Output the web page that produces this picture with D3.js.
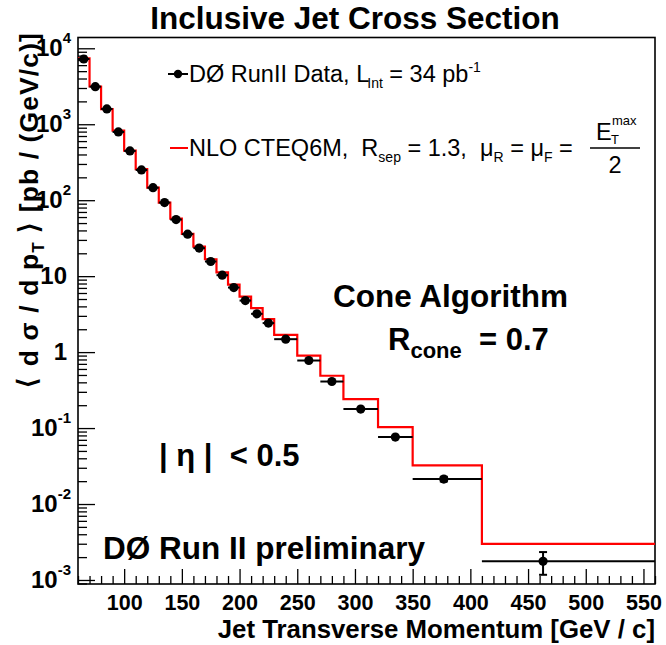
<!DOCTYPE html>
<html><head><meta charset="utf-8">
<script src="https://cdn.jsdelivr.net/npm/d3@7"></script>
<style>
body{margin:0;background:#fff}
svg{display:block}
text{font-family:"Liberation Sans",Arial,Helvetica,sans-serif;white-space:pre}
</style>
</head><body>
<svg id="c" width="666" height="645"></svg>
<script>
// ---- data ----
const binEdges = [60,70,80,90,100,110,120,130,140,150,160,170,180,190,200,210,220,230,250,270,290,320,350,410,560];
const ptValues = [65,75,85,95,105,115,125,135,145,155,165,175,185,195,205,215,225,240,260,280,305,335,377,463];
const dataXsec = [7230,3125,1590,792,445,250,146,93,55.6,35.7,23.4,15.6,10.3,7.08,4.77,3.19,2.41,1.48,0.775,0.41,0.178,0.076,0.0213,0.00176];
const nloXsec  = [7380,3140,1580,824,450,256,146,93,57.3,36,24.5,16.7,11.2,7.75,5.39,3.8,2.72,1.69,0.90,0.488,0.241,0.103,0.0322,0.00298];
const errUp    = [0,0,0,0,0,0,0,0,0,0,0,0,0,0,0,0,0,0,0,0,0,0,0.0015,0.00057];
const errDown  = [0,0,0,0,0,0,0,0,0,0,0,0,0,0,0,0,0,0,0,0,0,0,0.0015,0.00059];
const xTickLabels = [100,150,200,250,300,350,400,450,500,550];
const yDecades = [-3,-2,-1,0,1,2,3,4];

// ---- layout ----
const L=78, R=655, T=37.5, B=584;
const svg = d3.select('#c');
const x = d3.scaleLinear().domain([60,560]).range([L,R]);
const y = d3.scaleLog().domain([Math.pow(10,-3.053), Math.pow(10,4.142)]).range([B,T]);

// ---- axes ticks (inward) ----
const xMinor = d3.range(60,561,10).filter(v=>v%50!==0);
svg.append('g').attr('transform',`translate(0,${B})`)
  .call(d3.axisBottom(x).tickValues(xMinor).tickSize(-8).tickFormat(''))
  .call(g=>{g.select('.domain').remove(); g.selectAll('line').attr('stroke','#000').attr('stroke-width',1.3);});
svg.append('g').attr('transform',`translate(0,${B})`)
  .call(d3.axisBottom(x).tickValues(xTickLabels).tickSize(-15).tickPadding(11).tickFormat(d3.format('d')))
  .call(g=>{g.select('.domain').remove(); g.selectAll('line').attr('stroke','#000').attr('stroke-width',1.3);
    g.selectAll('text').attr('font-size',21.5).attr('font-weight','bold').attr('fill','#000')
     .style('font-family','"Liberation Sans",Arial,sans-serif');});

const yMajor = yDecades.map(e=>Math.pow(10,e));
const yMinor = [];
yDecades.concat([-4]).forEach(e=>{ for(let k=2;k<=9;k++){ const v=k*Math.pow(10,e); const d=y.domain(); if(v>=d[0]&&v<=d[1]) yMinor.push(v);} });
svg.append('g').attr('transform',`translate(${L},0)`)
  .call(d3.axisLeft(y).tickValues(yMinor).tickSize(-9).tickFormat(''))
  .call(g=>{g.select('.domain').remove(); g.selectAll('line').attr('stroke','#000').attr('stroke-width',1.3);});
svg.append('g').attr('transform',`translate(${L},0)`)
  .call(d3.axisLeft(y).tickValues(yMajor).tickSize(-17).tickFormat(''))
  .call(g=>{g.select('.domain').remove(); g.selectAll('line').attr('stroke','#000').attr('stroke-width',1.3);});

// y tick labels with superscripts
yDecades.forEach(e=>{
  const t = svg.append('text').attr('y', y(Math.pow(10,e))+8).attr('font-size',24).attr('font-weight','bold')
     .attr('text-anchor','end');
  if(e===0){ t.attr('x',67).text('1'); }
  else if(e===1){ t.attr('x',67).text('10'); }
  else {
    t.attr('x',71);
    t.append('tspan').text('10');
    t.append('tspan').attr('dy',-13).attr('font-size',15).text(String(e));
  }
});

// ---- frame ----
svg.append('rect').attr('x',L).attr('y',T).attr('width',R-L).attr('height',B-T)
  .attr('fill','none').attr('stroke','#000').attr('stroke-width',1.6);

// ---- NLO histogram ----
const histPts = binEdges.map((e,i)=>[e, i<nloXsec.length? nloXsec[i] : nloXsec[nloXsec.length-1]]);
svg.append('path').datum(histPts)
  .attr('d', d3.line().x(d=>x(d[0])).y(d=>y(d[1])).curve(d3.curveStepAfter))
  .attr('fill','none').attr('stroke','#ff0000').attr('stroke-width',2.2);

// ---- data points ----
const pts = ptValues.map((p,i)=>({p, v:dataXsec[i], lo:binEdges[i], hi:binEdges[i+1], eu:errUp[i], ed:errDown[i]}));
const gd = svg.append('g');
gd.selectAll('line.hx').data(pts).enter().append('line')
  .attr('x1',d=>x(d.lo)).attr('x2',d=>x(d.hi)).attr('y1',d=>y(d.v)).attr('y2',d=>y(d.v))
  .attr('stroke','#000').attr('stroke-width',2);
const ve = pts.filter(d=>d.eu>0);
gd.selectAll('line.vy').data(ve).enter().append('line')
  .attr('x1',d=>x(d.p)).attr('x2',d=>x(d.p)).attr('y1',d=>y(d.v+d.eu)).attr('y2',d=>y(d.v-d.ed))
  .attr('stroke','#000').attr('stroke-width',2);
[['eu',1],['ed',-1]].forEach(([k,s])=>{
  gd.selectAll('line.cap'+k).data(ve).enter().append('line')
    .attr('x1',d=>x(d.p)-4).attr('x2',d=>x(d.p)+4)
    .attr('y1',d=>y(d.v+s*d[k])).attr('y2',d=>y(d.v+s*d[k]))
    .attr('stroke','#000').attr('stroke-width',2);
});
gd.selectAll('circle').data(pts).enter().append('circle')
  .attr('cx',d=>x(d.p)).attr('cy',d=>y(d.v)).attr('r',4.6).attr('fill','#000');

// ---- title & axis titles ----
svg.append('text').attr('x',355).attr('y',29).attr('text-anchor','middle')
  .attr('font-size',31.5).attr('font-weight','bold').text('Inclusive Jet Cross Section');
svg.append('text').attr('x',R).attr('y',638).attr('text-anchor','end')
  .attr('font-size',25.8).attr('font-weight','bold').text('Jet Transverse Momentum [GeV / c]');
// y title: angle bracket placed separately, rest end-anchored at the top
svg.append('text').attr('transform','translate(36,388) rotate(-90)').attr('text-anchor','start')
  .attr('font-size',26).attr('font-weight','bold').text('\u27E8');
const yt = svg.append('text').attr('transform','translate(38,32) rotate(-90)').attr('text-anchor','end')
  .attr('font-size',26.5).attr('font-weight','bold').style('letter-spacing','1.1px');
yt.append('tspan').text('d \u03C3 / d p');
yt.append('tspan').attr('dy',6).attr('font-size',17).text('T');
yt.append('tspan').attr('dy',-6).text(' \u27E9 [pb / (GeV/c)]');

// ---- legend ----
svg.append('line').attr('x1',168).attr('x2',188).attr('y1',74).attr('y2',74).attr('stroke','#000').attr('stroke-width',2);
svg.append('circle').attr('cx',178).attr('cy',74).attr('r',4.2).attr('fill','#000');
const l1 = svg.append('text').attr('x',189).attr('y',82).attr('font-size',23.5);
l1.append('tspan').text('D\u00D8 RunII Data, L');
l1.append('tspan').attr('dy',6).attr('dx',-2).attr('font-size',14).text('Int');
l1.append('tspan').attr('dy',-6).text(' = 34 pb');
l1.append('tspan').attr('dy',-10).attr('font-size',14).text('-1');

svg.append('line').attr('x1',170).attr('x2',188).attr('y1',148).attr('y2',148).attr('stroke','#ff0000').attr('stroke-width',2);
const l2 = svg.append('text').attr('x',189).attr('y',156).attr('font-size',23.5);
l2.append('tspan').text('NLO CTEQ6M,  R');
l2.append('tspan').attr('dy',6).attr('font-size',14).text('sep');
l2.append('tspan').attr('dy',-6).text(' = 1.3,  \u03BC');
l2.append('tspan').attr('dy',6).attr('font-size',14).text('R');
l2.append('tspan').attr('dy',-6).text(' = \u03BC');
l2.append('tspan').attr('dy',6).attr('font-size',14).text('F');
l2.append('tspan').attr('dy',-6).text(' =');
svg.append('text').attr('x',596).attr('y',140).attr('font-size',23.5).text('E');
svg.append('text').attr('x',611).attr('y',144).attr('font-size',13).text('T');
svg.append('text').attr('x',612).attr('y',125).attr('font-size',13).text('max');
svg.append('line').attr('x1',590).attr('x2',640).attr('y1',148).attr('y2',148).attr('stroke','#000').attr('stroke-width',1.5);
svg.append('text').attr('x',615).attr('y',173).attr('text-anchor','middle').attr('font-size',23.5).text('2');

// ---- annotations ----
svg.append('text').attr('x',333).attr('y',307).attr('font-size',31.5).attr('font-weight','bold').text('Cone Algorithm');
const rc = svg.append('text').attr('x',388).attr('y',350).attr('font-size',31).attr('font-weight','bold');
rc.append('tspan').text('R');
rc.append('tspan').attr('dy',8).attr('font-size',22).text('cone');
rc.append('tspan').attr('dy',-8).text('  = 0.7');
svg.append('text').attr('x',159).attr('y',466).attr('font-size',31).attr('font-weight','bold').text('| \u03B7 |  < 0.5');
svg.append('text').attr('x',103).attr('y',559).attr('font-size',31.5).attr('font-weight','bold').text('D\u00D8 Run II preliminary');
</script>
</body></html>
